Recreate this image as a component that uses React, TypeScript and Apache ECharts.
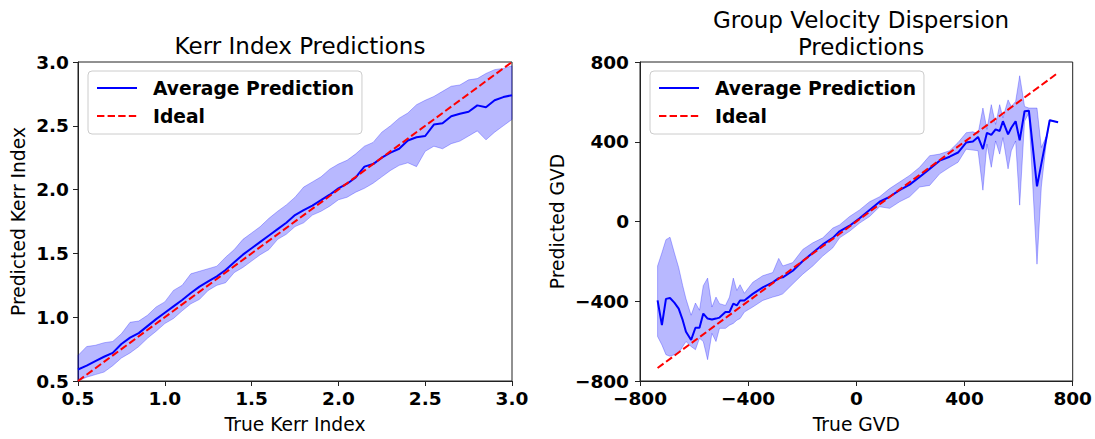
import React, { useEffect, useRef } from "react";
import * as echarts from "echarts";

const FONT = "DejaVu Sans";

// Kerr index: true values, mean prediction and the spread band
const kerrX = [
  0.5, 0.55, 0.6, 0.65, 0.7, 0.75, 0.8, 0.85, 0.9, 0.95, 1.0, 1.05, 1.1, 1.15, 1.2, 1.25, 1.3,
  1.35, 1.4, 1.45, 1.5, 1.55, 1.6, 1.65, 1.7, 1.75, 1.8, 1.85, 1.9, 1.95, 2.0, 2.05, 2.1, 2.15,
  2.2, 2.25, 2.3, 2.35, 2.4, 2.45, 2.5, 2.55, 2.6, 2.65, 2.7, 2.75, 2.8, 2.85, 2.9, 2.95, 3.0,
];
const kerrAvg = [
  0.59, 0.62, 0.655, 0.69, 0.72, 0.79, 0.84, 0.875, 0.93, 0.985, 1.035, 1.085, 1.135, 1.19, 1.24,
  1.28, 1.32, 1.37, 1.43, 1.49, 1.54, 1.59, 1.64, 1.69, 1.74, 1.8, 1.84, 1.875, 1.917, 1.96, 2.01,
  2.046, 2.095, 2.18, 2.2, 2.25, 2.29, 2.32, 2.385, 2.41, 2.42, 2.51, 2.52, 2.575, 2.595, 2.61,
  2.66, 2.645, 2.7, 2.725, 2.74,
];
const kerrHi = [
  0.7, 0.77, 0.78, 0.8, 0.81, 0.87, 0.96, 0.97, 1.015, 1.08, 1.12, 1.21, 1.25, 1.34, 1.36, 1.38,
  1.4, 1.47, 1.53, 1.61, 1.66, 1.71, 1.775, 1.83, 1.88, 1.94, 2.02, 2.06, 2.1, 2.16, 2.2, 2.23,
  2.28, 2.34, 2.37, 2.45, 2.5, 2.56, 2.6, 2.665, 2.7, 2.73, 2.77, 2.81, 2.82, 2.86, 2.87, 2.91,
  2.94, 2.95, 2.97,
];
const kerrLo = [
  0.5, 0.53, 0.55, 0.57, 0.62, 0.68, 0.72, 0.77, 0.835, 0.89, 0.95, 0.99, 1.05, 1.105, 1.14, 1.21,
  1.25, 1.27, 1.35, 1.39, 1.44, 1.49, 1.53, 1.61, 1.65, 1.71, 1.74, 1.8, 1.83, 1.87, 1.92, 1.94,
  1.98, 2.01, 2.05, 2.1, 2.15, 2.19, 2.21, 2.18, 2.3, 2.34, 2.32, 2.36, 2.38, 2.42, 2.46, 2.39,
  2.45, 2.5, 2.55,
];
const kerrIdeal = [
  [0.5, 0.5],
  [3.0, 3.0],
];
const kerrTicks = { min: 0.5, max: 3.0, interval: 0.5 };

// Group velocity dispersion: true values, mean prediction and the spread band
const gvdX = [
  -735, -719, -704, -689, -673, -657, -642, -630, -611, -595, -580, -566, -550, -534, -519, -506,
  -484, -469, -455, -442, -430, -414, -383, -346, -309, -287, -272, -235, -198, -161, -124, -87,
  -62, -25, 12, 49, 86, 123, 160, 197, 234, 271, 308, 345, 376, 406, 431, 450, 468, 483, 499, 515,
  530, 542, 561, 573, 589, 604, 622, 638, 668, 684, 703, 715, 746,
];
const gvdAvg = [
  -396, -520, -388, -384, -407, -437, -495, -553, -594, -533, -533, -462, -487, -492, -487, -482,
  -454, -454, -412, -421, -396, -396, -363, -330, -305, -284, -280, -247, -198, -157, -115, -82,
  -49, -21, 16, 58, 99, 124, 157, 185, 223, 264, 305, 325, 346, 396, 401, 424, 363, 445, 434, 462,
  454, 503, 437, 470, 503, 407, 553, 556, 176, 289, 421, 508, 498,
];
const gvdLo = [
  -577, -619, -668, -676, -668, -660, -627, -602, -627, -643, -586, -602, -693, -561, -602, -536,
  -536, -520, -511, -495, -487, -454, -429, -396, -379, -371, -363, -313, -264, -223, -173, -132,
  -82, -49, -8, 25, 74, 66, 99, 124, 173, 181, 239, 272, 297, 363, 358, 355, 157, 388, 272, 404,
  338, 421, 264, 355, 404, 82, 503, 544, -214, 173, 404, 505, 498,
];
const gvdHi = [
  -223, -157, -91, -79, -157, -231, -322, -388, -470, -409, -445, -322, -284, -429, -379, -412,
  -421, -379, -284, -346, -317, -360, -305, -272, -256, -185, -223, -206, -140, -107, -82, -33,
  -17, 25, 58, 99, 124, 165, 198, 231, 272, 330, 338, 355, 396, 445, 450, 440, 569, 462, 586, 487,
  586, 520, 610, 577, 602, 731, 577, 569, 569, 371, 429, 510, 498,
];
const gvdIdeal = [
  [-735, -735],
  [746, 746],
];
const gvdTicks = { min: -800, max: 800, interval: 400 };

const seriesNames = ["Average Prediction", "Ideal"];

const BLUE = "#0000ff";
const RED = "#ff0000";
const BAND = "rgba(0, 0, 255, 0.28)";
const SPINE = "#222";

const minus = (v: number) => (v < 0 ? "\u2212" + Math.abs(v) : String(v));

function bandSeries(xs: number[], lo: number[], hi: number[], idx: number) {
  return {
    type: "custom",
    xAxisIndex: idx,
    yAxisIndex: idx,
    silent: true,
    z: 1,
    data: [[xs[0], lo[0]]],
    renderItem: (_params: any, api: any) => {
      const pts: number[][] = [];
      for (let i = 0; i < xs.length; i++) pts.push(api.coord([xs[i], hi[i]]));
      for (let i = xs.length - 1; i >= 0; i--) pts.push(api.coord([xs[i], lo[i]]));
      return {
        type: "polygon",
        shape: { points: pts },
        style: { fill: BAND, stroke: BAND, lineWidth: 1 },
      };
    },
  };
}

function lineSeries(name: string, data: number[][], idx: number, color: string, dashed: boolean) {
  return {
    type: "line",
    name,
    xAxisIndex: idx,
    yAxisIndex: idx,
    data,
    symbol: "none",
    z: dashed ? 4 : 3,
    lineStyle: { color, width: 2, type: dashed ? [7.4, 3.2] : "solid" },
    itemStyle: { color },
  };
}

function axis(
  idx: number,
  ticks: { min: number; max: number; interval: number },
  name: string,
  nameGap: number,
  fmt: (v: number) => string,
  labelMargin: number
) {
  return {
    type: "value",
    gridIndex: idx,
    min: ticks.min,
    max: ticks.max,
    interval: ticks.interval,
    name,
    nameLocation: "middle",
    nameGap,
    nameTextStyle: { color: "#000", fontFamily: FONT, fontSize: 18.7 },
    axisLine: { show: true, onZero: false, lineStyle: { color: SPINE, width: 1 } },
    axisTick: { show: true, inside: false, length: 5, lineStyle: { color: SPINE, width: 1 } },
    splitLine: { show: false },
    axisLabel: {
      color: "#000",
      fontFamily: FONT,
      fontWeight: "bold",
      fontSize: 18.5,
      margin: labelMargin,
      showMinLabel: true,
      showMaxLabel: true,
      formatter: fmt,
    },
  };
}

function legend(left: number) {
  return {
    data: seriesNames,
    orient: "vertical",
    left,
    top: 71,
    padding: [7, 8, 8, 8],
    itemWidth: 40,
    itemHeight: 20,
    itemGap: 8,
    selectedMode: false,
    backgroundColor: "rgba(255,255,255,0.8)",
    borderColor: "#cccccc",
    borderWidth: 1,
    borderRadius: 4,
    // line-only keys: the marker symbol is hidden
    itemStyle: { opacity: 0 },
    textStyle: {
      color: "#000",
      fontFamily: FONT,
      fontWeight: "bold",
      fontSize: 18.7,
      lineHeight: 20,
      padding: [0, 0, 0, 11],
    },
  };
}

export default function App() {
  const ref = useRef<HTMLDivElement>(null);

  useEffect(() => {
    if (!ref.current) return;
    const chart = echarts.init(ref.current, undefined, { renderer: "svg" });

    const kerrAvgData = kerrX.map((x, i) => [x, kerrAvg[i]]);
    const gvdAvgData = gvdX.map((x, i) => [x, gvdAvg[i]]);

    const titleStyle = {
      color: "#000",
      fontFamily: FONT,
      fontSize: 23,
      fontWeight: "normal",
      lineHeight: 27.5,
    };

    chart.setOption({
      animation: false,
      backgroundColor: "#fff",
      textStyle: { fontFamily: FONT },
      title: [
        { text: "Kerr Index Predictions", left: 295, top: 27, textAlign: "center", textStyle: titleStyle },
        {
          text: "Group Velocity Dispersion\nPredictions",
          left: 856,
          top: 1,
          textAlign: "center",
          textStyle: titleStyle,
        },
      ],
      legend: [legend(88), legend(650)],
      grid: [
        { left: 78, top: 62, width: 434, height: 323, show: true, borderColor: SPINE, borderWidth: 1, backgroundColor: "transparent" },
        { left: 640, top: 62, width: 433, height: 323, show: true, borderColor: SPINE, borderWidth: 1, backgroundColor: "transparent" },
      ],
      xAxis: [
        axis(0, kerrTicks, "True Kerr Index", 34, (v: number) => v.toFixed(1), 8),
        axis(1, gvdTicks, "True GVD", 34, minus, 8),
      ],
      yAxis: [
        axis(0, kerrTicks, "Predicted Kerr Index", 50, (v: number) => v.toFixed(1), 9),
        axis(1, gvdTicks, "Predicted GVD", 73, minus, 11),
      ],
      series: [
        bandSeries(kerrX, kerrLo, kerrHi, 0),
        lineSeries(seriesNames[0], kerrAvgData, 0, BLUE, false),
        lineSeries(seriesNames[1], kerrIdeal, 0, RED, true),
        bandSeries(gvdX, gvdLo, gvdHi, 1),
        lineSeries(seriesNames[0], gvdAvgData, 1, BLUE, false),
        lineSeries(seriesNames[1], gvdIdeal, 1, RED, true),
      ],
    });

    return () => chart.dispose();
  }, []);

  return (
    <div
      ref={ref}
      style={{ position: "absolute", left: 0, top: 0, width: 1095, height: 439, background: "#fff" }}
    />
  );
}
